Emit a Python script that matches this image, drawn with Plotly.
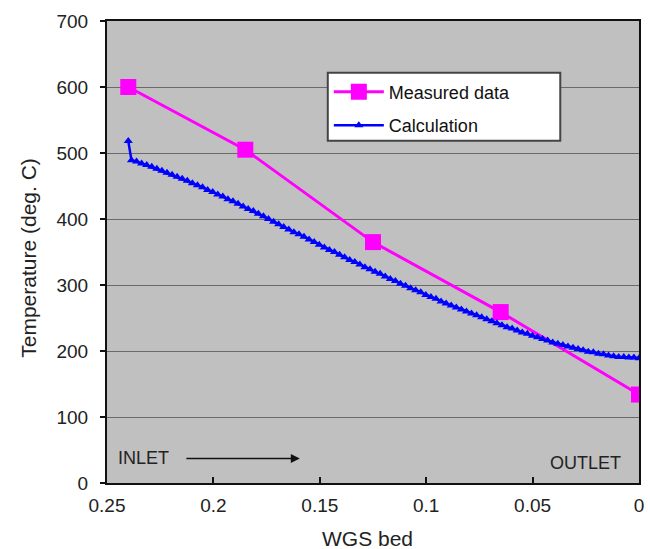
import numpy as np
import plotly.graph_objects as go

# Measured bed temperatures along the WGS bed
measured_pos = [0.240, 0.185, 0.125, 0.065, 0.0]
measured_temp = [600, 505, 365, 259, 134]

# Model calculation: inlet spike point, then the discretised bed profile
calc_spike_pos = 0.240
calc_spike_temp = 518
calc_temp = [
    489, 487, 484, 482, 479, 476, 473, 470, 467, 464,
    461, 458, 454, 451, 448, 444, 441, 437, 434, 430,
    427, 423, 419, 415, 412, 408, 404, 400, 396, 392,
    388, 384, 380, 377, 373, 369, 365, 361, 357, 353,
    350, 346, 342, 338, 335, 331, 327, 324, 320, 317,
    313, 309, 306, 302, 299, 295, 292, 289, 285, 282,
    279, 275, 272, 269, 266, 263, 260, 257, 254, 251,
    248, 245, 242, 239, 236, 234, 231, 228, 226, 223,
    221, 218, 216, 213, 211, 209, 207, 205, 203, 201,
    199, 198, 196, 195, 193, 192, 191, 191, 190, 190,
    189,
]
calc_grid_start = 0.2385
calc_grid_end = 0.0

x_tickvals = [0.25, 0.2, 0.15, 0.1, 0.05, 0.0]
x_ticktext = ["0.25", "0.2", "0.15", "0.1", "0.05", "0"]
y_tickvals = [0, 100, 200, 300, 400, 500, 600, 700]

calc_pos = [calc_spike_pos] + list(np.linspace(calc_grid_start, calc_grid_end, len(calc_temp)))
calc_vals = [calc_spike_temp] + calc_temp

FONT = "Liberation Sans, Arial, sans-serif"

fig = go.Figure()
fig.add_trace(go.Scatter(
    x=measured_pos, y=measured_temp, mode="lines+markers", name="Measured data",
    line=dict(color="#ff00ff", width=3),
    marker=dict(symbol="square", size=16, color="#ff00ff"),
    legendgroup="m",
))
fig.add_trace(go.Scatter(
    x=calc_pos, y=calc_vals, mode="lines+markers", name="Calculation",
    line=dict(color="#0000ff", width=2.5),
    marker=dict(symbol="triangle-up", size=8, color="#0000ff"),
    legendgroup="c",
))

# Flow direction labels inside the plot
fig.add_annotation(x=0.2327, y=38, text="INLET", showarrow=False,
                   font=dict(family=FONT, size=18, color="#222"))
fig.add_annotation(x=0.1594, y=37, ax=0.2134, ay=37, xref="x", yref="y",
                   axref="x", ayref="y", text="", showarrow=True,
                   arrowhead=2, arrowsize=1.2, arrowwidth=1.5, arrowcolor="#111")
fig.add_annotation(x=0.0253, y=31, text="OUTLET", showarrow=False,
                   font=dict(family=FONT, size=18, color="#222"))

# Axis titles
fig.add_annotation(x=0.49, y=-0.12, xref="paper", yref="paper", text="WGS bed",
                   xanchor="center", yanchor="middle", showarrow=False,
                   font=dict(family=FONT, size=21, color="#222"))
fig.add_annotation(x=-0.149, y=0.487, xref="paper", yref="paper",
                   text="Temperature (deg. C)", textangle=-90, showarrow=False,
                   xanchor="center", yanchor="middle",
                   font=dict(family=FONT, size=21, color="#222"))

# Legend frame
fig.add_shape(type="rect", xref="paper", yref="paper",
              x0=0.415, x1=0.852, y0=0.7406, y1=0.888,
              fillcolor="white", line=dict(color="#444", width=2), layer="above")

fig.update_layout(
    width=650, height=549,
    margin=dict(l=107, r=11, t=21, b=66),
    paper_bgcolor="white", plot_bgcolor="#c0c0c0",
    font=dict(family=FONT, size=18, color="#222"),
    showlegend=True,
    legend=dict(
        x=0.417, y=0.886, xanchor="left", yanchor="top",
        bgcolor="rgba(0,0,0,0)", borderwidth=0,
        font=dict(family=FONT, size=18, color="#111"),
        tracegroupgap=7, traceorder="grouped", itemwidth=50,
    ),
)
fig.update_xaxes(
    range=[0.25, 0], tickvals=x_tickvals, ticktext=x_ticktext,
    showgrid=False, zeroline=False, automargin=False,
    showline=True, linecolor="#111", linewidth=2, mirror=True,
    ticks="inside", ticklen=6, tickcolor="#111", tickwidth=1.5,
    ticklabelstandoff=4,
    tickfont=dict(family=FONT, size=19, color="#222"),
)
fig.update_yaxes(
    range=[0, 700], tickvals=y_tickvals,
    showgrid=True, gridcolor="#6a6a6a", gridwidth=1, zeroline=False, automargin=False,
    showline=True, linecolor="#111", linewidth=2, mirror=True,
    ticks="outside", ticklen=5, tickcolor="#111", tickwidth=1.5,
    ticklabelstandoff=8,
    tickfont=dict(family=FONT, size=19, color="#222"),
)

fig.write_html("out.html")
